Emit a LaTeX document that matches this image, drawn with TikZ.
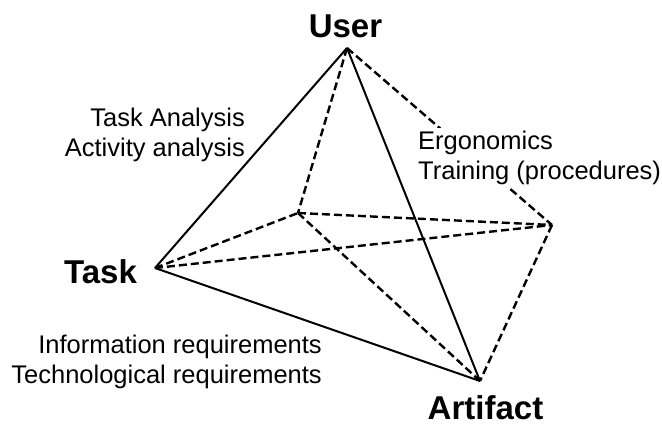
\documentclass[tikz,border=0pt]{standalone}
\usepackage{fontspec}
\setmainfont{Liberation Sans}
\tikzstyle{corner name}=[font=\fontsize{33}{33}\selectfont\bfseries, inner sep=0pt]
\tikzstyle{note}=[font=\fontsize{25.5}{30}\selectfont, inner sep=0pt]
\tikzstyle{front edge}=[draw, line width=2pt]
\tikzstyle{hidden edge}=[draw, line width=2.4pt, dash pattern=on 8pt off 4pt]

\begin{document}
\begin{tikzpicture}[x=1pt, y=-1pt]
    \useasboundingbox (0,0) rectangle (662,424);
    % Corners of the tetrahedron
    \foreach \pos/\name in {{(347,48)/U},{(155,268)/T},{(480,381)/A},{(552,225)/R},{(298,213)/B}}
    \node[coordinate] (\name) at \pos {};
    % Names of the corners
    \node[corner name] (user) at (345.5,26) {User};
    \node[corner name] (task) at (100.5,271.5) {Task};
    \node[corner name] (artifact) at (485.5,407.5) {Artifact};
    % Visible and hidden edges
    \foreach \source/\dest in {U/T, U/A, T/A}
    \path[front edge] (\source) -- (\dest);
    \foreach \source/\dest in {U/B, U/R, T/B, T/R, B/R, B/A, R/A}
    \path[hidden edge] (\source) -- (\dest);
    % Notes on the edges
    \node[note, align=right, anchor=east] (user task) at (245,135) {Task Analysis\\Activity analysis};
    \node[note, align=right, anchor=east] (task artifact) at (322,362) {Information requirements\\Technological requirements};
    \node[note, align=left, anchor=west, fill=white, inner sep=3pt] (user artifact) at (415,158) {Ergonomics\\Training (procedures)};
\end{tikzpicture}
\end{document}
